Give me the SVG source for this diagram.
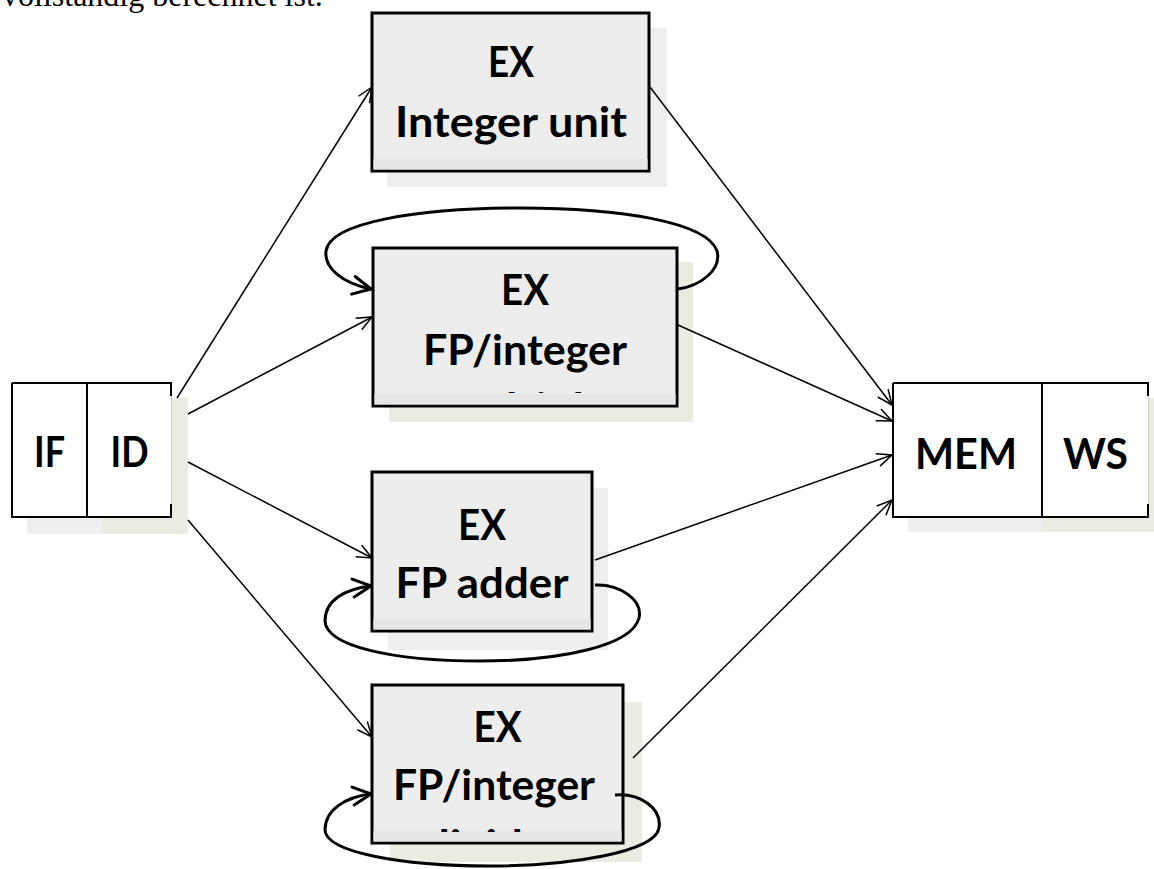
<svg xmlns="http://www.w3.org/2000/svg" width="1154" height="869" viewBox="0 0 1154 869">
  <defs>
    <style>
      .box { fill: #EDEDED; stroke: #000; stroke-width: 3; }
      .band { fill: #E6E6E6; }
      .sh-g { fill: #EEEEEE; }
      .sh-b { fill: #ECEBE1; }
      .cell { fill: #FFFFFF; stroke: none; }
      .rule { stroke: #000; stroke-width: 2; fill: none; }
      .faint { stroke: #C8C8C8; stroke-width: 1; fill: none; }
      .lbl { font-family: Lato, "Liberation Sans", sans-serif; font-weight: 700; font-size: 42px; text-anchor: middle; fill: #000; }
      .edge { stroke: #000; stroke-width: 1.5; fill: none; marker-end: url(#arr); }
      .loop { stroke: #000; stroke-width: 3; fill: none; marker-end: url(#arrLoop); }
      .prose { font-family: "Liberation Serif", "Times New Roman", serif; font-size: 32px; fill: #000; }
    </style>
    <marker id="arr" markerUnits="userSpaceOnUse" markerWidth="22" markerHeight="22" viewBox="0 0 22 22" refX="20" refY="11" orient="auto">
      <path d="M5,4.5 L20,11 L5,17.5" fill="none" stroke="#000" stroke-width="1.5"/>
    </marker>
    <marker id="arrLoop" markerUnits="userSpaceOnUse" markerWidth="26" markerHeight="26" viewBox="0 0 26 26" refX="23" refY="13" orient="auto">
      <path d="M5,4 L23,13 L5,22" fill="none" stroke="#000" stroke-width="3" stroke-linecap="round" stroke-linejoin="round"/>
    </marker>
    <clipPath id="clip-mul"><rect x="375" y="250" width="300" height="143"/></clipPath>
    <clipPath id="clip-div"><rect x="374" y="687" width="247" height="145"/></clipPath>
  </defs>

  <rect width="1154" height="869" fill="#FFFFFF"/>

  <!-- running text above the figure -->
  <text class="prose" x="2" y="6">vollständig berechnet ist.</text>

  <!-- IF / ID stage pair -->
  <g id="node-if-id">
    <rect class="sh-g" x="27" y="398" width="75" height="136"/>
    <rect class="sh-b" x="102" y="398" width="86" height="136"/>
    <rect class="cell" x="12" y="383" width="160" height="134"/>
    <path class="rule" d="M12,383 H172 M12,383 V517 H172 M87,383 V517"/>
    <path class="faint" d="M171.5,383 V517"/>
    <path class="rule" d="M171,383 V396 M171,504 V517"/>
    <text class="lbl" x="49.5" y="467" textLength="31" lengthAdjust="spacingAndGlyphs">IF</text>
    <text class="lbl" x="129.5" y="467" textLength="38" lengthAdjust="spacingAndGlyphs">ID</text>
  </g>

  <!-- EX: integer unit -->
  <g id="node-ex-int">
    <rect class="sh-g" x="387" y="28" width="280" height="159"/>
    <rect class="box" x="372" y="13" width="277" height="158"/>
    <rect class="band" x="373.5" y="159" width="274" height="10.5"/>
    <text class="lbl" x="511" y="77" textLength="46" lengthAdjust="spacingAndGlyphs">EX</text>
    <text class="lbl" x="511" y="137" textLength="232" lengthAdjust="spacingAndGlyphs">Integer unit</text>
  </g>

  <!-- EX: FP/integer multiply -->
  <g id="node-ex-mul">
    <rect class="sh-b" x="389" y="262" width="304" height="160"/>
    <rect class="box" x="373" y="248" width="304" height="158"/>
    <rect class="band" x="374.5" y="394" width="301" height="10.5"/>
    <g clip-path="url(#clip-mul)">
      <text class="lbl" x="525" y="305" textLength="48" lengthAdjust="spacingAndGlyphs">EX</text>
      <text class="lbl" x="525" y="365" textLength="204" lengthAdjust="spacingAndGlyphs">FP/integer</text>
      <text class="lbl" x="525" y="423" textLength="166" lengthAdjust="spacingAndGlyphs">multiply</text>
    </g>
  </g>

  <!-- EX: FP adder -->
  <g id="node-ex-add">
    <rect class="sh-g" x="388" y="488" width="220" height="162"/>
    <rect class="box" x="372" y="472" width="220" height="159"/>
    <rect class="band" x="373.5" y="619" width="217" height="10.5"/>
    <text class="lbl" x="482" y="540" textLength="48" lengthAdjust="spacingAndGlyphs">EX</text>
    <text class="lbl" x="482" y="598" textLength="173" lengthAdjust="spacingAndGlyphs">FP adder</text>
  </g>

  <!-- EX: FP/integer divider -->
  <g id="node-ex-div">
    <rect class="sh-b" x="390" y="702" width="252" height="160"/>
    <rect class="box" x="372" y="685" width="251" height="158"/>
    <rect class="band" x="373.5" y="831" width="248" height="10.5"/>
    <g clip-path="url(#clip-div)">
      <text class="lbl" x="497.5" y="742" textLength="48" lengthAdjust="spacingAndGlyphs">EX</text>
      <text class="lbl" x="494" y="800" textLength="202" lengthAdjust="spacingAndGlyphs">FP/integer</text>
      <text class="lbl" x="494" y="860" textLength="140" lengthAdjust="spacingAndGlyphs">divider</text>
    </g>
  </g>

  <!-- MEM / WS stage pair -->
  <g id="node-mem-ws">
    <rect class="sh-g" x="908" y="398" width="134" height="134"/>
    <rect class="sh-b" x="1042" y="398" width="112" height="134"/>
    <rect class="cell" x="893" y="383" width="256" height="134"/>
    <path class="rule" d="M893,383 H1149 M893,383 V517 H1149 M1042,383 V517"/>
    <path class="faint" d="M1148.5,383 V517"/>
    <path class="rule" d="M1148,383 V396 M1148,504 V517"/>
    <text class="lbl" x="966" y="469" textLength="102" lengthAdjust="spacingAndGlyphs">MEM</text>
    <text class="lbl" x="1095.5" y="469" textLength="65" lengthAdjust="spacingAndGlyphs">WS</text>
  </g>

  <!-- connectors -->
  <g id="connectors">
    <path class="edge" d="M177,398 L372,87"/>
    <path class="edge" d="M188,414 L372,317"/>
    <path class="edge" d="M188,462 L372,558"/>
    <path class="edge" d="M188,520 L372,737"/>

    <path class="edge" d="M650,87 L892,405"/>
    <path class="edge" d="M678,325 L892,421"/>
    <path class="edge" d="M595,560 L892,455"/>
    <path class="edge" d="M633,758 L892,500"/>

    <!-- repeat loops -->
    <path class="loop" d="M678,289 C700,286 722,270 717,251 C707,222 620,208 520,208 C420,208 330,222 326,251 C324,268 342,283 371,289"/>
    <path class="loop" d="M595,585 C620,584 643,600 639,618 C632,646 560,661 480,661 C392,661 326,646 325,621 C325,600 345,589 371,586"/>
    <path class="loop" d="M615,795 C640,793 662,808 659,828 C655,852 570,866 490,866 C400,866 326,852 325,830 C325,810 345,797 371,794"/>
  </g>
</svg>
